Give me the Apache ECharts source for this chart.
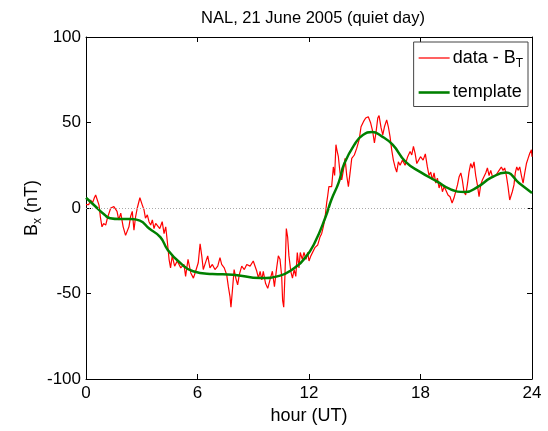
<!DOCTYPE html>
<html>
<head>
<meta charset="utf-8">
<script src="https://cdn.jsdelivr.net/npm/echarts@6/dist/echarts.min.js"></script>
<style>
html,body{margin:0;padding:0;background:#fff;}
#c{width:548px;height:431px;}
</style>
</head>
<body>
<div id="c"></div>
<script>
const titleText = 'NAL, 21 June 2005 (quiet day)';
const xTicks = [0, 6, 12, 18, 24];
const yTicks = [-100, -50, 0, 50, 100];

const dataHours = [0.0,0.05,0.15,0.25,0.35,0.45,0.52,0.6,0.7,0.77,0.86,0.95,1.06,1.15,1.33,1.5,1.67,1.76,1.87,2.0,2.13,2.22,2.31,2.4,2.49,2.58,2.67,2.76,2.9,3.03,3.12,3.2,3.3,3.39,3.48,3.57,3.66,3.75,3.84,3.97,4.1,4.2,4.29,4.38,4.47,4.55,4.64,4.77,4.91,5.1,5.27,5.36,5.49,5.64,5.78,5.9,5.96,6.04,6.14,6.23,6.31,6.4,6.55,6.67,6.8,6.94,7.09,7.21,7.3,7.44,7.57,7.66,7.75,7.8,7.88,7.97,8.06,8.16,8.25,8.38,8.52,8.65,8.83,9.0,9.1,9.19,9.28,9.37,9.46,9.54,9.66,9.78,9.9,10.03,10.14,10.26,10.35,10.44,10.53,10.58,10.64,10.71,10.78,10.85,10.92,11.02,11.11,11.2,11.29,11.37,11.46,11.53,11.64,11.73,11.84,11.93,12.0,12.1,12.18,12.33,12.47,12.59,12.68,12.77,12.86,12.95,13.0,13.07,13.13,13.22,13.31,13.38,13.45,13.5,13.58,13.67,13.76,13.85,13.94,14.03,14.12,14.21,14.3,14.44,14.57,14.7,14.8,14.93,15.05,15.19,15.32,15.43,15.52,15.61,15.7,15.77,15.88,15.97,16.06,16.18,16.27,16.36,16.45,16.54,16.63,16.72,16.81,16.9,17.03,17.17,17.31,17.44,17.53,17.62,17.71,17.8,17.9,18.0,18.14,18.26,18.37,18.46,18.55,18.64,18.73,18.82,18.91,19.0,19.09,19.18,19.27,19.36,19.48,19.59,19.7,19.8,19.9,19.99,20.08,20.17,20.25,20.34,20.43,20.52,20.61,20.7,20.79,20.88,20.97,21.06,21.15,21.24,21.33,21.42,21.51,21.6,21.69,21.78,21.87,21.96,22.05,22.14,22.23,22.35,22.44,22.53,22.62,22.71,22.8,22.85,22.94,23.03,23.1,23.18,23.25,23.34,23.43,23.52,23.61,23.7,23.79,23.88,23.97,24.0];
const dataValues = [2,3,2,4.7,3,6,7.6,5,1.7,-5,-11,-9,-10,-6,0,0.8,-2,-7,-3,-11,-16,-17,-11,-5,-2,-13,-5,0,6,1.7,-1,-6,-4,-8,-10,-7,-12,-9,-8,-12,-8,-15,-11,-20,-30,-35,-28,-34,-31,-35,-33,-40,-30,-38,-41,-37,-38,-32,-21,-28,-36,-33,-28,-35,-33,-36,-34,-29,-33,-35,-39,-46,-52,-58,-48,-36,-41,-45,-39,-34,-36,-33,-34,-31,-32,-37,-41,-37,-42,-37,-44,-47,-42,-37,-46,-35,-28,-30,-40,-54,-58,-38,-12,-17,-28,-37,-41,-36,-40,-26,-35,-26,-30,-26,-30,-26,-31,-28,-27,-23,-21.6,-17,-15,-11,-6,3,6.6,12.5,13.5,12.5,24,19,37,34,30,20.5,16.4,22,29,19,12.5,20.5,29,31,35,40,47.5,50.5,52.6,53.4,49.7,44.6,38,44.6,52.6,54,46.8,42.7,47.5,51.5,47.5,41.7,34,28,24,21,27,25,28,25,30,33,31,36,32,26,28,30,28,31.6,24,19,21,16.4,20.5,14.6,17.5,11.7,14.6,9.5,12.5,10.5,7.6,6.6,2.9,5.8,6.6,13.5,18.3,20.5,16.4,9.5,7.6,13.5,21,26,23.4,27,19,13.5,6.6,13.5,16.4,15.4,20.5,23.4,19,22,18.3,17.5,19,18.3,22,24,22,23.4,19,12.5,4.7,3.7,9.5,13.5,20.5,24,22,24,19,14.6,20.5,26,29,32,34,30];

const tplHours = [0,0.5,1.0,1.3,1.8,2.4,2.9,3.4,4.0,4.4,5.06,5.76,6.8,7.9,9.4,10.4,11.1,11.8,12.3,12.9,13.2,13.6,13.9,14.5,14.9,15.4,15.9,16.5,17.2,18.0,18.9,19.6,20.4,21.1,21.8,22.6,23.3,24];
const tplValues = [6,1,-4,-6,-6.5,-6.5,-7.4,-12,-17,-24.5,-32,-37,-38.6,-39,-41,-39.7,-36,-29,-20.5,-5,4.7,15,26,38,42.7,44.4,42,37,27,21,15.4,11,9.3,12.5,17.7,20.7,14.6,8.8];

const zeroLine = 0;

const font = 'Liberation Sans, Arial, Helvetica, sans-serif';
const chart = echarts.init(document.getElementById('c'), null, {renderer: 'canvas'});

const pairs = (xs, ys) => xs.map((x, i) => [x, ys[i]]);

const axisCommon = {
  type: 'value',
  axisLine: {show: true, onZero: false, lineStyle: {color: '#000', width: 1}},
  axisTick: {show: true, inside: true, length: 5, lineStyle: {color: '#000'}},
  splitLine: {show: false},
};

chart.setOption({
  animation: false,
  backgroundColor: '#fff',
  title: {
    text: titleText,
    left: 308, top: 5, textAlign: 'center',
    textStyle: {fontFamily: font, fontSize: 16.5, fontWeight: 'normal', color: '#000'}
  },
  grid: {left: 86, right: 16, top: 37, bottom: 52, containLabel: false},
  legend: {
    orient: 'vertical',
    right: 20, top: 42,
    backgroundColor: '#fff',
    borderColor: '#444', borderWidth: 1,
    padding: [7, 5, 5, 5],
    itemWidth: 31, itemHeight: 14, itemGap: 14,
    symbolKeepAspect: true,
    data: [
      {name: 'data', icon: 'path://M0,0H30V1.2H0Z'},
      {name: 'template', icon: 'path://M0,0H30V2.5H0Z'}
    ],
    formatter: function (n) { return n === 'data' ? 'data - B{sub|T}' : 'template'; },
    textStyle: {
      fontFamily: font, fontSize: 18, color: '#000', padding: [0, 0, 0, -2],
      rich: {sub: {fontFamily: font, fontSize: 12, verticalAlign: 'bottom', padding: [11, 0, 0, 0], color: '#000'}}
    }
  },
  xAxis: [
    Object.assign({}, axisCommon, {
      position: 'bottom', min: xTicks[0], max: xTicks[xTicks.length - 1], interval: 6,
      name: 'hour (UT)', nameLocation: 'middle', nameGap: 26,
      nameTextStyle: {fontFamily: font, fontSize: 18, color: '#000'},
      axisLabel: {show: true, margin: 6, fontFamily: font, fontSize: 17, color: '#000'}
    }),
    Object.assign({}, axisCommon, {
      position: 'top', min: xTicks[0], max: xTicks[xTicks.length - 1], interval: 6,
      axisLabel: {show: false}
    })
  ],
  yAxis: [
    Object.assign({}, axisCommon, {
      position: 'left', min: yTicks[0], max: yTicks[yTicks.length - 1], interval: 50,
      name: 'B{sub|x} (nT)', nameLocation: 'middle', nameGap: 42, nameRotate: 90,
      nameMoveOverlap: false,
      nameTextStyle: {fontFamily: font, fontSize: 18, color: '#000',
        rich: {sub: {fontFamily: font, fontSize: 12, color: '#000', verticalAlign: 'bottom', padding: [11, 0, 0, 0]}}},
      axisLabel: {show: true, margin: 5, fontFamily: font, fontSize: 17, color: '#000'}
    }),
    Object.assign({}, axisCommon, {
      position: 'right', min: yTicks[0], max: yTicks[yTicks.length - 1], interval: 50,
      axisLabel: {show: false}
    })
  ],
  series: [
    {
      name: 'data', type: 'line', xAxisIndex: 0, yAxisIndex: 0,
      data: pairs(dataHours, dataValues),
      symbol: 'none', showSymbol: false,
      lineStyle: {color: '#ff0000', width: 1.2},
      itemStyle: {color: '#ff0000'},
      markLine: {
        silent: true, symbol: 'none', label: {show: false},
        lineStyle: {color: '#aaa', type: [1, 2], width: 1},
        data: [{yAxis: zeroLine}]
      },
      z: 2
    },
    {
      name: 'template', type: 'line', xAxisIndex: 0, yAxisIndex: 0,
      data: pairs(tplHours, tplValues),
      symbol: 'none', showSymbol: false, smooth: 0.5,
      lineStyle: {color: '#008000', width: 2.5},
      itemStyle: {color: '#008000'},
      z: 3
    }
  ]
});
</script>
</body>
</html>
